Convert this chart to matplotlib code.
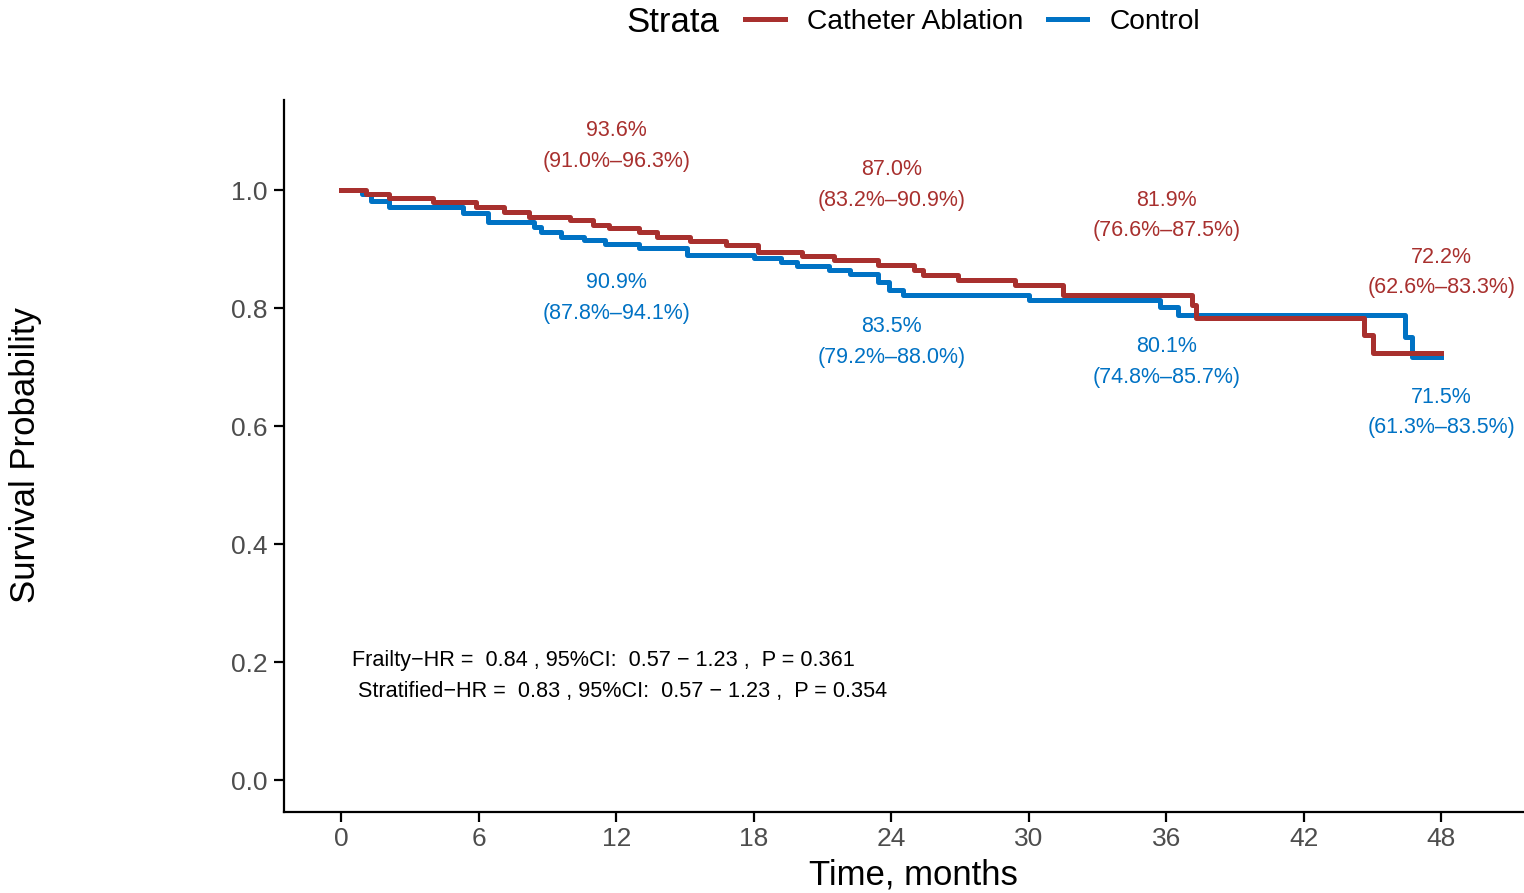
import matplotlib.pyplot as plt

plt.rcParams["font.family"] = ["Liberation Sans", "DejaVu Sans"]

# Kaplan-Meier step points (months, survival)
ca_time = [0, 1.1, 2.1, 4.0, 5.9, 7.1, 8.2, 10.0, 11.0, 11.7, 13.0, 13.8, 15.2,
           16.8, 18.2, 20.1, 21.5, 23.4, 25.0, 25.4, 26.9, 29.4, 31.5, 37.1,
           37.3, 44.6, 45.0, 48.0]
ca_surv = [1.0, 0.993, 0.986, 0.980, 0.971, 0.962, 0.954, 0.949, 0.941, 0.936,
           0.929, 0.920, 0.914, 0.907, 0.895, 0.888, 0.881, 0.873, 0.864, 0.856,
           0.847, 0.839, 0.822, 0.805, 0.783, 0.754, 0.724, 0.724]

ctl_time = [0, 0.9, 1.3, 2.1, 5.3, 6.4, 8.4, 8.7, 9.6, 10.6, 11.5, 13.0, 15.1,
            18.0, 19.2, 19.9, 21.3, 22.2, 23.4, 23.9, 24.5, 30.0, 35.7, 36.5,
            46.4, 46.7, 48.0]
ctl_surv = [1.0, 0.993, 0.981, 0.971, 0.961, 0.946, 0.937, 0.929, 0.920, 0.915,
            0.908, 0.902, 0.890, 0.885, 0.878, 0.871, 0.864, 0.858, 0.844, 0.830,
            0.822, 0.813, 0.802, 0.788, 0.751, 0.717, 0.717]

# survival estimates at landmark times
land_time = [12, 24, 36, 48]
ca_est = [0.936, 0.870, 0.819, 0.722]
ca_lbl = ["93.6%", "87.0%", "81.9%", "72.2%"]
ca_ci = ["(91.0%–96.3%)", "(83.2%–90.9%)", "(76.6%–87.5%)", "(62.6%–83.3%)"]
ctl_est = [0.909, 0.835, 0.801, 0.715]
ctl_lbl = ["90.9%", "83.5%", "80.1%", "71.5%"]
ctl_ci = ["(87.8%–94.1%)", "(79.2%–88.0%)", "(74.8%–85.7%)", "(61.3%–83.5%)"]

hr_lines = ["Frailty\u2212HR =  0.84 , 95%CI:  0.57 \u2212 1.23 ,  P = 0.361",
            " Stratified\u2212HR =  0.83 , 95%CI:  0.57 \u2212 1.23 ,  P = 0.354"]

red = "#A8302E"
blue = "#0072C4"

fig = plt.figure(figsize=(15.24, 8.93), dpi=100)
ax = fig.add_axes([0.1864, 0.0907, 0.8136, 0.7973])

ax.step(ctl_time, ctl_surv, where="post", color=blue, lw=3.6, label="Control")
ax.step(ca_time, ca_surv, where="post", color=red, lw=3.6, label="Catheter Ablation")

for t, s, a, b in zip(land_time, ca_est, ca_lbl, ca_ci):
    ax.text(t, s + 0.164, a, color=red, fontsize=15.5, ha="center", va="center")
    ax.text(t, s + 0.113, b, color=red, fontsize=15.5, ha="center", va="center")
for t, s, a, b in zip(land_time, ctl_est, ctl_lbl, ctl_ci):
    ax.text(t, s - 0.066, a, color=blue, fontsize=15.5, ha="center", va="center")
    ax.text(t, s - 0.118, b, color=blue, fontsize=15.5, ha="center", va="center")

ax.text(0.46, 0.203, hr_lines[0], fontsize=15.6, ha="left", va="center")
ax.text(0.46, 0.151, hr_lines[1], fontsize=15.6, ha="left", va="center")

ax.set_xlim(-2.49, 51.6)
ax.set_ylim(-0.054, 1.1525)
ax.set_xticks([0, 6, 12, 18, 24, 30, 36, 42, 48])
ax.set_yticks([0.0, 0.2, 0.4, 0.6, 0.8, 1.0])
ax.set_yticklabels(["0.0", "0.2", "0.4", "0.6", "0.8", "1.0"])
ax.tick_params(labelsize=19, labelcolor="#4D4D4D", length=7, width=1.6,
               color="black", pad=5)
ax.tick_params(axis="x", pad=4)
for side in ["top", "right"]:
    ax.spines[side].set_visible(False)
for side in ["left", "bottom"]:
    ax.spines[side].set_linewidth(1.6)

ax.set_xlabel("Time, months", fontsize=25, va="center")
ax.xaxis.set_label_coords((913 - 284) / 1240, -(875 - 812) / 712)
ax.set_ylabel("Survival Probability", fontsize=25, va="center")
ax.yaxis.set_label_coords(-(284 - 25) / 1240, (812 - 455) / 712)

fig.text(673 / 1524, 1 - 22 / 893, "Strata", fontsize=25, ha="center", va="center")
handles, labels = ax.get_legend_handles_labels()
fig.legend(handles[::-1], labels[::-1], loc="center left",
           bbox_to_anchor=(720 / 1524, 1 - 22 / 893), ncol=2, frameon=False,
           fontsize=20.3, handlelength=1.4, handletextpad=0.8, columnspacing=0.85)

plt.savefig("out.png", dpi=100)
plt.close()
